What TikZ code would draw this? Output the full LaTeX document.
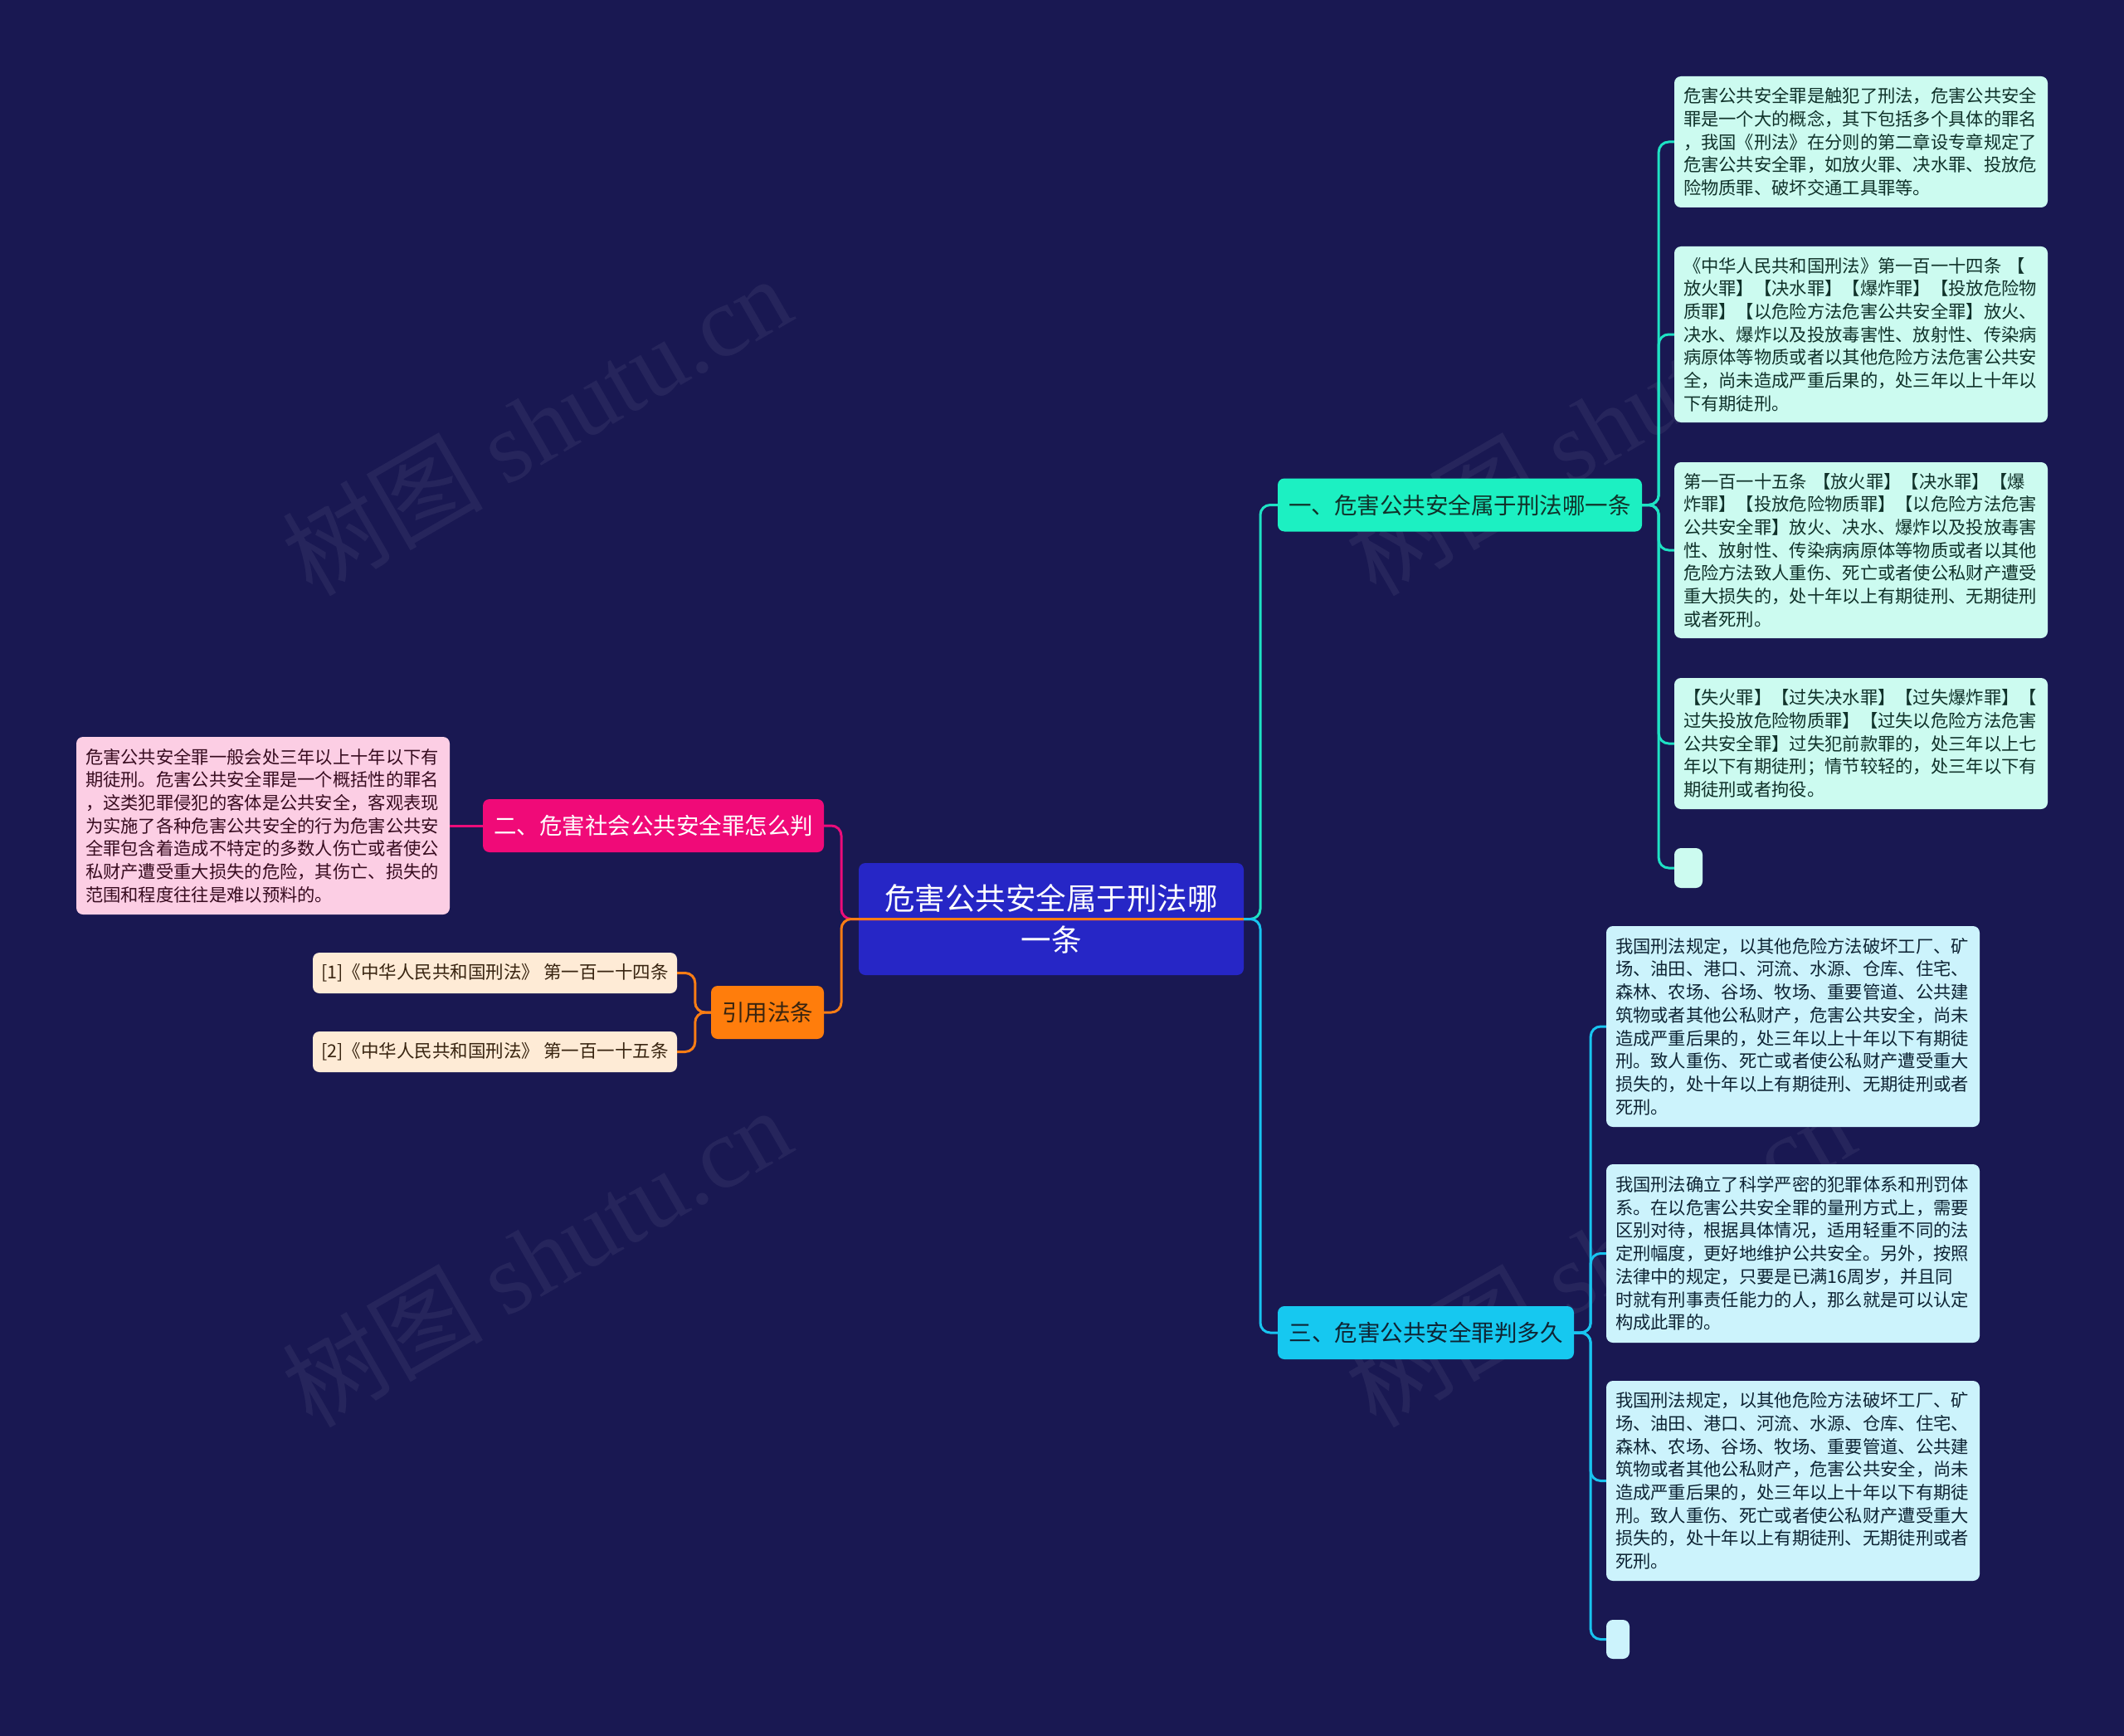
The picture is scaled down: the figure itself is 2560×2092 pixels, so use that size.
\documentclass[tikz,border=0pt]{standalone}
\usepackage{fontspec}
\setmainfont{Noto Sans CJK SC}
\newfontfamily\wmlatin{Liberation Serif}
\usetikzlibrary{calc}
\definecolor{bg}{RGB}{25,24,82}
\definecolor{cfill}{RGB}{38,38,198}
\definecolor{onefill}{RGB}{28,240,194}
\definecolor{threefill}{RGB}{22,200,240}
\definecolor{twofill}{RGB}{240,10,120}
\definecolor{reffill}{RGB}{255,125,12}
\definecolor{mintleaf}{RGB}{204,251,240}
\definecolor{cyanleaf}{RGB}{204,243,252}
\definecolor{pinkleaf}{RGB}{252,206,228}
\definecolor{peachleaf}{RGB}{254,235,214}
\definecolor{mintText}{RGB}{16,50,42}
\definecolor{cyanText}{RGB}{14,36,52}
\definecolor{pinkText}{RGB}{56,12,32}
\definecolor{peachText}{RGB}{56,36,16}
\definecolor{tealline}{RGB}{30,226,196}
\definecolor{cyanline}{RGB}{24,196,240}
\definecolor{pinkline}{RGB}{236,12,122}
\definecolor{orangeline}{RGB}{250,125,20}
\tikzset{
  box/.style={rounded corners=8pt, inner sep=0pt, align=center},
  leaf/.style={box, minimum width=450pt, text width=428pt, inner xsep=11pt, align=left,
    font=\fontsize{21.3}{27.7}\selectfont},
  branch/.style={box, font=\fontsize{27.5}{33}\selectfont, minimum height=64pt},
  reftext/.style={box, fill=peachleaf, text=peachText, minimum width=439pt, minimum height=49pt,
    font=\fontsize{21.5}{25}\selectfont},
  conn/.style={line width=3pt, rounded corners=12pt},
  wm/.style={text=white, opacity=0.06, rotate=30, font=\fontsize{121}{130}\selectfont},
}
\begin{document}
\begin{tikzpicture}[x=1pt,y=-1pt]
\useasboundingbox (0,0) rectangle (2560,2092);
\fill[bg] (0,0) rectangle (2560,2092);

% watermarks
\node[wm] (w1) at (646,512) {树图 {\wmlatin shutu.cn}};
\node[wm] (w2) at (1928,512) {树图 {\wmlatin shutu.cn}};
\node[wm] (w3) at (646,1514) {树图 {\wmlatin shutu.cn}};
\node[wm] (w4) at (1928,1514) {树图 {\wmlatin shutu.cn}};

% central node
\node[box, fill=cfill, text=white, minimum width=464pt, minimum height=135pt,
  font=\fontsize{36.5}{50}\selectfont] (C) at (1267,1107.5) {危害公共安全属于刑法哪\\一条};

% branches
\node[branch, fill=onefill, text=mintText, minimum width=439pt] (B1) at (1759.5,608.5) {一、危害公共安全属于刑法哪一条};
\node[branch, fill=threefill, text=cyanText, minimum width=357pt] (B3) at (1718.5,1606) {三、危害公共安全罪判多久};
\node[branch, fill=twofill, text=white, minimum width=411pt] (B2) at (787.5,995) {二、危害社会公共安全罪怎么判};
\node[branch, fill=reffill, text=peachText, minimum width=136pt] (B4) at (925,1220) {引用法条};

% leaves of branch 1
\node[leaf, fill=mintleaf, text=mintText, minimum height=158pt] (L1) at (2243,171) {危害公共安全罪是触犯了刑法，危害公共安全\\罪是一个大的概念，其下包括多个具体的罪名\\，我国《刑法》在分则的第二章设专章规定了\\危害公共安全罪，如放火罪、决水罪、投放危\\险物质罪、破坏交通工具罪等。};
\node[leaf, fill=mintleaf, text=mintText, minimum height=212pt] (L2) at (2243,403) {《中华人民共和国刑法》第一百一十四条 【\\放火罪】【决水罪】【爆炸罪】【投放危险物\\质罪】【以危险方法危害公共安全罪】放火、\\决水、爆炸以及投放毒害性、放射性、传染病\\病原体等物质或者以其他危险方法危害公共安\\全，尚未造成严重后果的，处三年以上十年以\\下有期徒刑。};
\node[leaf, fill=mintleaf, text=mintText, minimum height=212pt] (L3) at (2243,663) {第一百一十五条 【放火罪】【决水罪】【爆\\炸罪】【投放危险物质罪】【以危险方法危害\\公共安全罪】放火、决水、爆炸以及投放毒害\\性、放射性、传染病病原体等物质或者以其他\\危险方法致人重伤、死亡或者使公私财产遭受\\重大损失的，处十年以上有期徒刑、无期徒刑\\或者死刑。};
\node[leaf, fill=mintleaf, text=mintText, minimum height=158pt] (L4) at (2243,896) {【失火罪】【过失决水罪】【过失爆炸罪】【\\过失投放危险物质罪】【过失以危险方法危害\\公共安全罪】过失犯前款罪的，处三年以上七\\年以下有期徒刑；情节较轻的，处三年以下有\\期徒刑或者拘役。};
\node[box, fill=mintleaf, minimum width=34pt, minimum height=48pt] (L5) at (2035,1046) {};

% leaves of branch 3
\node[leaf, fill=cyanleaf, text=cyanText, minimum height=242pt] (M1) at (2161,1237) {我国刑法规定，以其他危险方法破坏工厂、矿\\场、油田、港口、河流、水源、仓库、住宅、\\森林、农场、谷场、牧场、重要管道、公共建\\筑物或者其他公私财产，危害公共安全，尚未\\造成严重后果的，处三年以上十年以下有期徒\\刑。致人重伤、死亡或者使公私财产遭受重大\\损失的，处十年以上有期徒刑、无期徒刑或者\\死刑。};
\node[leaf, fill=cyanleaf, text=cyanText, minimum height=215pt] (M2) at (2161,1510.5) {我国刑法确立了科学严密的犯罪体系和刑罚体\\系。在以危害公共安全罪的量刑方式上，需要\\区别对待，根据具体情况，适用轻重不同的法\\定刑幅度，更好地维护公共安全。另外，按照\\法律中的规定，只要是已满16周岁，并且同\\时就有刑事责任能力的人，那么就是可以认定\\构成此罪的。};
\node[leaf, fill=cyanleaf, text=cyanText, minimum height=241pt] (M3) at (2161,1784.5) {我国刑法规定，以其他危险方法破坏工厂、矿\\场、油田、港口、河流、水源、仓库、住宅、\\森林、农场、谷场、牧场、重要管道、公共建\\筑物或者其他公私财产，危害公共安全，尚未\\造成严重后果的，处三年以上十年以下有期徒\\刑。致人重伤、死亡或者使公私财产遭受重大\\损失的，处十年以上有期徒刑、无期徒刑或者\\死刑。};
\node[box, fill=cyanleaf, minimum width=28pt, minimum height=47pt] (M4) at (1950,1975.5) {};

% leaf of branch 2
\node[leaf, fill=pinkleaf, text=pinkText, minimum height=214pt] (P) at (317,995) {危害公共安全罪一般会处三年以上十年以下有\\期徒刑。危害公共安全罪是一个概括性的罪名\\，这类犯罪侵犯的客体是公共安全，客观表现\\为实施了各种危害公共安全的行为危害公共安\\全罪包含着造成不特定的多数人伤亡或者使公\\私财产遭受重大损失的危险，其伤亡、损失的\\范围和程度往往是难以预料的。};

% references
\node[reftext] (R1) at (596.5,1172.5) {[1]《中华人民共和国刑法》 第一百一十四条};
\node[reftext] (R2) at (596.5,1267.5) {[2]《中华人民共和国刑法》 第一百一十五条};

% junction coordinates
\coordinate (rj) at (1519,1107.5);
\coordinate (lj) at (1014,1107.5);

% connectors
\draw[conn, pinkline] (C.east) -- (lj) |- (B2.east);
\draw[conn, orangeline] (C.east) -- (lj) |- (B4.east);
\draw[conn, tealline] (C.east) -- (rj) |- (B1.west);
\draw[conn, cyanline] (C.east) -- (rj) |- (B3.west);

\foreach \n in {L1,L2,L3,L4,L5}
  \draw[conn, tealline] (B1.east) -- ++(20,0) |- (\n.west);
\foreach \n in {M1,M2,M3,M4}
  \draw[conn, cyanline] (B3.east) -- ++(20,0) |- (\n.west);

\draw[conn, pinkline] (B2.west) -- (P.east);
\draw[conn, orangeline] (B4.west) -- ++(-19,0) |- (R1.east);
\draw[conn, orangeline] (B4.west) -- ++(-19,0) |- (R2.east);
\end{tikzpicture}
\end{document}
